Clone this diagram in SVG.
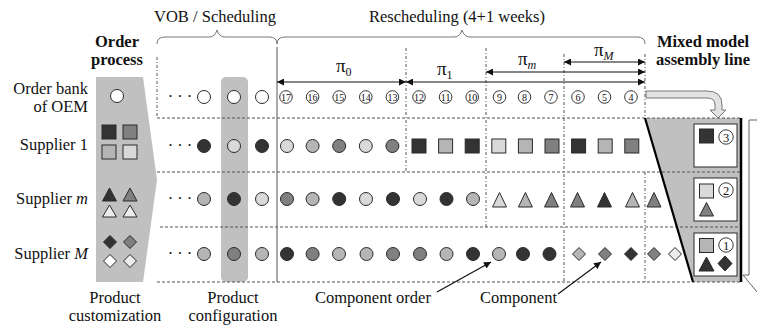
<svg xmlns="http://www.w3.org/2000/svg" xmlns:xlink="http://www.w3.org/1999/xlink" width="757" height="329" viewBox="0 0 757 329">
<style>
text{font-family:"Liberation Serif","Times New Roman",serif;fill:#111;stroke:none}
.t{font-size:16.5px}
.b{font-size:16.5px;font-weight:bold}
.n{font-size:10px;text-anchor:middle}
.nb{font-size:12.5px;text-anchor:middle}
.sh{stroke:#2a2a2a;stroke-width:1}
.d{fill:#333}
.m{fill:#808080}
.l{fill:#b5b5b5}
.w{fill:#d9d9d9}
.wh{fill:#fff}
.x{fill:#ececec}
.hd{fill:none;stroke:#555;stroke-width:1;stroke-dasharray:3 2}
.vd{fill:none;stroke:#555;stroke-width:1;stroke-dasharray:3 2 1 2}
.br{fill:none;stroke:#777;stroke-width:1}
.ar{fill:none;stroke:#111;stroke-width:1.2}
</style>
<defs>
<circle id="c" r="6.5"/>
<rect id="sq" x="-7" y="-7" width="14" height="14"/>
<path id="tr" d="M0,-7.5 L7,7 L-7,7 Z"/>
<path id="dm" d="M0,-6.5 L6.5,0 L0,6.5 L-6.5,0 Z"/>
<circle id="nc" r="6.3" fill="#fff" stroke="#222" stroke-width="0.9"/>
<circle id="nc2" r="7.2" fill="#fff" stroke="#222" stroke-width="0.9"/>
<marker id="ah" viewBox="0 0 10 10" refX="10" refY="5" markerWidth="8" markerHeight="7" markerUnits="userSpaceOnUse" orient="auto-start-reverse">
<path d="M0,0 L10,5 L0,10 Z" fill="#111"/>
</marker>
</defs>

<!-- background shapes -->
<g id="customization-panel">
<polygon points="96,77 143,77 157,180 143,282 96,282" fill="#c0c0c0"/>
</g>
<g id="configuration-column">
<rect x="221" y="77" width="27" height="205" rx="5" fill="#c0c0c0"/>
</g>
<g id="assembly-line">
<polygon points="645,118 741,118 741,282 693,282" fill="#c0c0c0"/>
</g>

<!-- grid lines -->
<g id="grid">
<line x1="157" y1="57" x2="157" y2="118" class="vd"/>
<line x1="157" y1="118" x2="741" y2="118" class="hd"/>
<line x1="157" y1="172" x2="741" y2="172" class="hd"/>
<line x1="160" y1="227" x2="741" y2="227" class="hd"/>
<line x1="157" y1="282" x2="741" y2="282" class="hd"/>
<line x1="277" y1="47" x2="277" y2="282" stroke="#555" stroke-width="1"/>
<line x1="406" y1="48" x2="406" y2="172" class="vd"/>
<line x1="486" y1="48" x2="486" y2="227" class="vd"/>
<line x1="564" y1="54" x2="564" y2="282" class="vd"/>
<line x1="645" y1="54" x2="645" y2="118" class="vd"/>
<line x1="645" y1="172" x2="645" y2="282" class="vd"/>
</g>

<!-- braces -->
<g id="braces">
<path class="br" d="M157,44 Q157,37 165,37 L209,37 Q215,37 217,30 Q219,37 225,37 L269,37 Q277,37 277,44"/>
<path class="br" d="M277,44 Q277,37 285,37 L454,37 Q460,37 462,30 Q464,37 470,37 L637,37 Q645,37 645,44"/>
</g>

<!-- texts -->
<g id="labels">
<text class="t" x="215" y="22" text-anchor="middle">VOB / Scheduling</text>
<text class="t" x="457" y="22" text-anchor="middle">Rescheduling (4+1 weeks)</text>
<text class="b" x="117" y="47" text-anchor="middle">Order</text>
<text class="b" x="117" y="65" text-anchor="middle">process</text>
<text class="b" x="703" y="47" text-anchor="middle">Mixed model</text>
<text class="b" x="703" y="65" text-anchor="middle">assembly line</text>
<text class="t" x="88" y="94" text-anchor="end">Order bank</text>
<text class="t" x="88" y="112" text-anchor="end">of OEM</text>
<text class="t" x="88" y="150" text-anchor="end">Supplier 1</text>
<text class="t" x="88" y="204" text-anchor="end">Supplier <tspan font-style="italic">m</tspan></text>
<text class="t" x="88" y="259" text-anchor="end">Supplier <tspan font-style="italic">M</tspan></text>
<text class="t" x="115" y="303" text-anchor="middle">Product</text>
<text class="t" x="115" y="321" text-anchor="middle">customization</text>
<text class="t" x="233" y="303" text-anchor="middle">Product</text>
<text class="t" x="233" y="321" text-anchor="middle">configuration</text>
<text class="t" x="315" y="303">Component order</text>
<text class="t" x="480" y="303">Component</text>
<text class="t" x="180" y="102" text-anchor="middle">· · ·</text>
<text class="t" x="180" y="151" text-anchor="middle">· · ·</text>
<text class="t" x="180" y="204" text-anchor="middle">· · ·</text>
<text class="t" x="180" y="259" text-anchor="middle">· · ·</text>
</g>

<!-- periods -->
<g id="periods">
<text x="336" y="72" font-size="19">π<tspan font-size="12" dy="4">0</tspan></text>
<text x="437" y="75" font-size="19">π<tspan font-size="12" dy="4">1</tspan></text>
<text x="518" y="65" font-size="19">π<tspan font-size="12" dy="4" font-style="italic">m</tspan></text>
<text x="594" y="56" font-size="19">π<tspan font-size="12" dy="4" font-style="italic">M</tspan></text>
</g>

<g id="connectors">
<line class="ar" x1="277" y1="82" x2="406" y2="82" marker-start="url(#ah)" marker-end="url(#ah)"/>
<line class="ar" x1="406" y1="82" x2="645" y2="82" marker-start="url(#ah)" marker-end="url(#ah)"/>
<line class="ar" x1="486" y1="72" x2="645" y2="72" marker-start="url(#ah)" marker-end="url(#ah)"/>
<line class="ar" x1="564" y1="62" x2="645" y2="62" marker-start="url(#ah)" marker-end="url(#ah)"/>
<line class="ar" x1="437" y1="292" x2="491" y2="262" stroke-width="1" marker-end="url(#ah)"/>
<line class="ar" x1="558" y1="294" x2="601" y2="262" stroke-width="1" marker-end="url(#ah)"/>
<path d="M646,91 H707 Q722,91 722,105 V110 H726 L718,118 L710,110 H715 V105 Q715,98 707,98 H646 Z" fill="#e2e2e2" stroke="#777" stroke-width="1"/>
<polygon points="749,120 775,120 775,275 781,275 762,298 743,275 749,275" fill="#fff" stroke="#666" stroke-width="1"/>
<line x1="645" y1="118" x2="693" y2="282" stroke="#000" stroke-width="2.2"/>
<line x1="741" y1="118" x2="741" y2="282" stroke="#000" stroke-width="2.5"/>
</g>

<!-- left panel shapes -->
<g id="order-bank-product" class="sh">
<use href="#c" x="117" y="96" class="wh"/>
</g>
<g id="supplier1-variants" class="sh">
<use href="#sq" x="109" y="132" class="d"/>
<use href="#sq" x="130" y="132" class="m"/>
<use href="#sq" x="109" y="152" class="l"/>
<use href="#sq" x="130" y="152" class="w"/>
</g>
<g id="supplierm-variants" class="sh">
<path d="M109.5,188 L116.5,201 L102.5,201 Z" class="d"/>
<path d="M130,188 L137,201 L123,201 Z" class="m"/>
<path d="M109.5,205 L116.5,217 L102.5,217 Z" class="x"/>
<path d="M130,205 L137,217 L123,217 Z" class="x"/>
</g>
<g id="supplierM-variants" class="sh">
<use href="#dm" x="110" y="242" class="d"/>
<use href="#dm" x="130" y="242" class="m"/>
<use href="#dm" x="110" y="261" class="wh"/>
<use href="#dm" x="130" y="261" class="x"/>
</g>

<!-- scheduling columns -->
<g id="vob-orders" class="sh">
<use href="#c" x="204" y="97" class="wh"/>
<use href="#c" x="234" y="97" class="wh"/>
<use href="#c" x="262" y="97" class="wh"/>
<use href="#c" x="204" y="146" class="d"/>
<use href="#c" x="234" y="146" class="w"/>
<use href="#c" x="262" y="146" class="d"/>
<use href="#c" x="204" y="199" class="l"/>
<use href="#c" x="234" y="199" class="d"/>
<use href="#c" x="262" y="199" class="w"/>
<use href="#c" x="204" y="254" class="l"/>
<use href="#c" x="234" y="254" class="m"/>
<use href="#c" x="262" y="254" class="l"/>
</g>

<!-- order bank sequence -->
<g id="order-sequence">
<use href="#nc" x="286" y="97"/><text class="n" x="286" y="100.5">17</text>
<use href="#nc" x="312.6" y="97"/><text class="n" x="312.6" y="100.5">16</text>
<use href="#nc" x="339.2" y="97"/><text class="n" x="339.2" y="100.5">15</text>
<use href="#nc" x="365.8" y="97"/><text class="n" x="365.8" y="100.5">14</text>
<use href="#nc" x="392.4" y="97"/><text class="n" x="392.4" y="100.5">13</text>
<use href="#nc" x="419" y="97"/><text class="n" x="419" y="100.5">12</text>
<use href="#nc" x="445.6" y="97"/><text class="n" x="445.6" y="100.5">11</text>
<use href="#nc" x="472.2" y="97"/><text class="n" x="472.2" y="100.5">10</text>
<use href="#nc" x="499.5" y="97"/><text class="n" x="499.5" y="100.5">9</text>
<use href="#nc" x="524.5" y="97"/><text class="n" x="524.5" y="100.5">8</text>
<use href="#nc" x="551" y="97"/><text class="n" x="551" y="100.5">7</text>
<use href="#nc" x="578" y="97"/><text class="n" x="578" y="100.5">6</text>
<use href="#nc" x="604.5" y="97"/><text class="n" x="604.5" y="100.5">5</text>
<use href="#nc" x="631" y="97"/><text class="n" x="631" y="100.5">4</text>
</g>

<g id="supplier1-sequence" class="sh">
<use href="#c" x="287" y="146" class="w"/>
<use href="#c" x="312.6" y="146" class="l"/>
<use href="#c" x="339.2" y="146" class="m"/>
<use href="#c" x="365.8" y="146" class="w"/>
<use href="#c" x="392.4" y="146" class="m"/>
<use href="#sq" x="419" y="146" class="d"/>
<use href="#sq" x="445.6" y="146" class="l"/>
<use href="#sq" x="472.2" y="146" class="d"/>
<use href="#sq" x="498.8" y="146" class="w"/>
<use href="#sq" x="525.4" y="146" class="l"/>
<use href="#sq" x="552" y="146" class="m"/>
<use href="#sq" x="578.6" y="146" class="d"/>
<use href="#sq" x="605.2" y="146" class="l"/>
<use href="#sq" x="631.8" y="146" class="m"/>
</g>

<g id="supplierm-sequence" class="sh">
<use href="#c" x="287" y="199" class="m"/>
<use href="#c" x="312.6" y="199" class="l"/>
<use href="#c" x="339.2" y="199" class="d"/>
<use href="#c" x="366" y="199" class="w"/>
<use href="#c" x="393" y="199" class="d"/>
<use href="#c" x="420" y="199" class="w"/>
<use href="#c" x="446.5" y="199" class="d"/>
<use href="#c" x="473" y="199" class="l"/>
<use href="#tr" x="499.5" y="200" class="w"/>
<use href="#tr" x="525.4" y="200" class="l"/>
<use href="#tr" x="551.5" y="200" class="m"/>
<use href="#tr" x="577.5" y="200" class="m"/>
<use href="#tr" x="604.5" y="200" class="d"/>
<use href="#tr" x="632.5" y="200" class="l"/>
<use href="#tr" x="654" y="200" class="m"/>
</g>

<g id="supplierM-sequence" class="sh">
<use href="#c" x="287" y="254" class="d"/>
<use href="#c" x="312.6" y="254" class="m"/>
<use href="#c" x="339" y="254" class="l"/>
<use href="#c" x="366.5" y="254" class="l"/>
<use href="#c" x="393" y="254" class="m"/>
<use href="#c" x="420" y="254" class="m"/>
<use href="#c" x="446.5" y="254" class="l"/>
<use href="#c" x="473" y="254" class="d"/>
<use href="#c" x="499" y="254" class="l"/>
<use href="#c" x="523" y="254" class="d"/>
<use href="#c" x="549.5" y="254" class="d"/>
<use href="#dm" x="579" y="254" class="l"/>
<use href="#dm" x="605" y="254" class="m"/>
<use href="#dm" x="631" y="254" class="d"/>
<use href="#dm" x="654" y="254" class="m"/>
<use href="#dm" x="675" y="254" class="x"/>
</g>

<!-- assembly line stations -->
<g id="station-3" class="sh">
<rect x="694" y="124" width="43" height="43" fill="#fff"/>
<use href="#sq" x="706.5" y="136" class="d"/>
<use href="#nc2" x="726" y="137"/><text class="nb" x="726" y="141.5">3</text>
</g>
<g id="station-2" class="sh">
<rect x="694" y="178" width="43" height="43" fill="#fff"/>
<use href="#sq" x="706.5" y="191" class="w"/>
<use href="#nc2" x="726" y="190"/><text class="nb" x="726" y="194.5">2</text>
<path d="M706.5,202.5 L713.5,216 L699.5,216 Z" class="m"/>
</g>
<g id="station-1" class="sh">
<rect x="694" y="233" width="43" height="43" fill="#fff"/>
<use href="#sq" x="706.5" y="245.5" class="l"/>
<use href="#nc2" x="726" y="245"/><text class="nb" x="726" y="249.5">1</text>
<path d="M706.5,257 L714,271 L699,271 Z" class="d"/>
<path d="M725,256 L732,263.5 L725,271 L718,263.5 Z" class="d"/>
</g>
</svg>
